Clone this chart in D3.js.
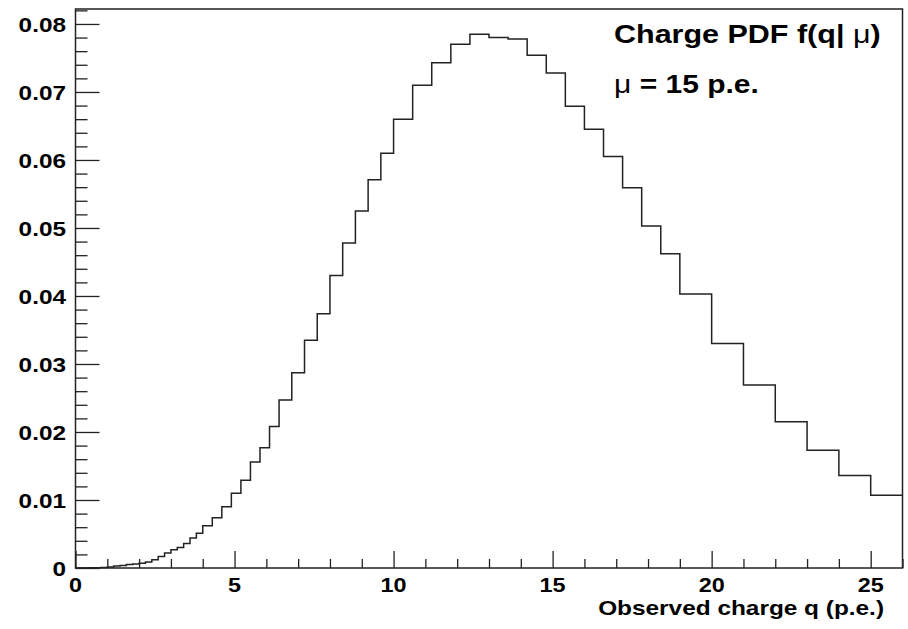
<!DOCTYPE html>
<html lang="en">
<head>
  <meta charset="UTF-8">
  <title>Charge PDF</title>
  <script src="https://cdn.jsdelivr.net/npm/d3@7"></script>
  <style>
    body {
      margin: 0;
      background: #fff;
    }
    text {
      font-family: "Liberation Sans", Arial, sans-serif;
      font-weight: bold;
      fill: #000;
    }
    .greek {
      font-weight: normal;
    }
    .hist {
      fill: none;
      stroke: #222;
      stroke-width: 1.5;
    }
    .frame {
      fill: none;
      stroke: #222;
      stroke-width: 1.5;
    }
    .tick line {
      stroke: #222;
      stroke-width: 1.3;
    }
  </style>
</head>
<body>
  <div id="chart"></div>
  <script>
    // bin low edges (variable width) + last upper edge
    const binEdges = [
      0, 0.2, 0.4, 0.6, 0.8, 1.0, 1.2, 1.4, 1.6, 1.8,
      2.0, 2.2, 2.4, 2.6, 2.8, 3.0, 3.2, 3.4, 3.6, 3.8,
      4.0, 4.3, 4.6, 4.9, 5.2, 5.5, 5.8, 6.1,
      6.4, 6.8, 7.2, 7.6, 8.0, 8.4, 8.8, 9.2, 9.6,
      10.0, 10.6, 11.2, 11.8, 12.4, 13.0, 13.6, 14.2, 14.8, 15.4, 16.0, 16.6, 17.2, 17.8, 18.4,
      19, 20, 21, 22, 23, 24, 25, 26
    ];
    // bin contents
    const binValues = [
      0, 0.00001, 0.00002, 0.00004, 0.00008, 0.00015, 0.00028, 0.00036, 0.0005, 0.0006,
      0.0007, 0.0009, 0.0012, 0.0017, 0.0022, 0.0027, 0.0030, 0.0036, 0.0044, 0.0051,
      0.0062, 0.0074, 0.0090, 0.0110, 0.0129, 0.0156, 0.0177, 0.0208,
      0.0247, 0.0287, 0.0335, 0.0374, 0.0430, 0.0478, 0.0525, 0.0571, 0.0610,
      0.0660, 0.0710, 0.0743, 0.0770, 0.0785, 0.0780, 0.0778, 0.0754, 0.0728, 0.0679, 0.0645, 0.0605, 0.0559, 0.0503, 0.0462,
      0.0403, 0.0330, 0.0269, 0.0215, 0.0173, 0.0136, 0.0107
    ];

    const xTicks = [0, 5, 10, 15, 20, 25];
    const yTicks = [0, 0.01, 0.02, 0.03, 0.04, 0.05, 0.06, 0.07, 0.08];
    const yTickLabels = ['0', '0.01', '0.02', '0.03', '0.04', '0.05', '0.06', '0.07', '0.08'];

    const xTitle = 'Observed charge q (p.e.)';

    const width = 908, height = 629;
    const padL = 75.5, padR = 902.5, padT = 9, padB = 568;

    const svg = d3.select('#chart').append('svg')
      .attr('width', width)
      .attr('height', height);

    const x = d3.scaleLinear().domain([0, 26]).range([padL, padR]);
    const y = d3.scaleLinear().domain([0, 0.0822]).range([padB, padT]);

    // text placed at (tx,ty) and stretched sideways round its anchor,
    // the original font runs wider than Helvetica
    function label(tx, ty, size, anchor, stretch = 1.16) {
      return svg.append('g')
        .attr('transform', `translate(${tx},${ty}) scale(${stretch},1)`)
        .append('text')
        .attr('text-anchor', anchor)
        .style('font-size', size + 'px');
    }

    // minor ticks
    const xMinor = d3.range(0, 26.001, 1).filter(v => v % 5 !== 0);
    const yMinor = d3.range(0, 0.0823, 0.002).filter((v, i) => i % 5 !== 0);

    svg.append('g')
      .attr('transform', `translate(0,${padB})`)
      .call(d3.axisBottom(x).tickValues(xMinor).tickSize(-9).tickFormat(''))
      .call(g => g.select('.domain').remove());

    svg.append('g')
      .attr('transform', `translate(0,${padB})`)
      .call(d3.axisBottom(x).tickValues(xTicks).tickSize(-17).tickFormat(''))
      .call(g => g.select('.domain').remove());

    svg.append('g')
      .attr('transform', `translate(${padL},0)`)
      .call(d3.axisLeft(y).tickValues(yMinor).tickSize(-12).tickFormat(''))
      .call(g => g.select('.domain').remove());

    svg.append('g')
      .attr('transform', `translate(${padL},0)`)
      .call(d3.axisLeft(y).tickValues(yTicks).tickSize(-24).tickFormat(''))
      .call(g => g.select('.domain').remove());

    // tick labels
    yTicks.forEach((d, i) => {
      label(padL - 9.5, y(d), 21, 'end')
        .attr('dy', '0.36em')
        .text(yTickLabels[i]);
    });

    xTicks.forEach(d => {
      label(x(d), 592, 19.5, 'middle', 1.2).text(d);
    });

    // histogram outline
    const pts = binEdges.map((e, i) => [e, binValues[Math.min(i, binValues.length - 1)]]);
    const line = d3.line()
      .x(d => x(d[0]))
      .y(d => y(d[1]))
      .curve(d3.curveStepAfter);

    svg.append('path')
      .attr('class', 'hist')
      .attr('d', line(pts));

    svg.append('rect')
      .attr('class', 'frame')
      .attr('x', padL)
      .attr('y', padT)
      .attr('width', padR - padL)
      .attr('height', padB - padT);

    label(884, 615, 20.5, 'end', 1.19).text(xTitle);

    // pad titles, mu in the plain greek font as in the original
    const t1 = label(614, 42.5, 25, 'start', 1.22);
    t1.append('tspan').text('Charge PDF f(q| ');
    t1.append('tspan').attr('class', 'greek').text('\u03BC');
    t1.append('tspan').text(')');

    const t2 = label(614, 93, 25, 'start', 1.2);
    t2.append('tspan').attr('class', 'greek').text('\u03BC');
    t2.append('tspan').text(' = 15 p.e.');
  </script>
</body>
</html>
